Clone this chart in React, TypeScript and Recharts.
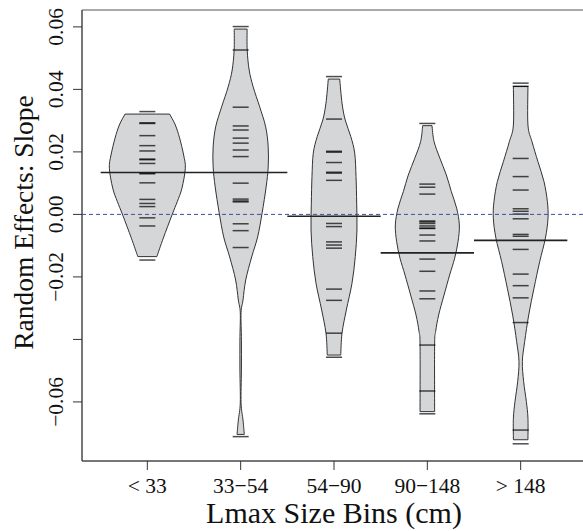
import { ComposedChart, XAxis, YAxis, Scatter, ReferenceLine, ReferenceArea } from 'recharts';

const categories = ['< 33', '33−54', '54−90', '90−148', '> 148'];
const binTicks = [1, 2, 3, 4, 5];
const yTicks = [-0.06, -0.04, -0.02, 0, 0.02, 0.04, 0.06];
const yTickLabels = ['−0.06', '', '−0.02', '0.00', '0.02', '0.04', '0.06'];
const beanMeans = [0.0134, 0.0134, -0.0006, -0.0123, -0.0083];

// individual estimates per size bin
const obsLt33 = [0.0329, 0.0293, 0.0291, 0.0252, 0.022, 0.0203, 0.0177, 0.0175, 0.0163, 0.0132, 0.013, 0.0101, 0.0048, 0.0035, 0.0025, -0.0011, -0.0037, -0.0146];
const obs3354 = [0.0601, 0.0526, 0.0343, 0.0283, 0.027, 0.0244, 0.0228, 0.0206, 0.0185, 0.01, 0.0049, 0.0043, 0.004, -0.003, -0.0052, -0.0106, -0.0711];
const obs5490 = [0.0441, 0.0305, 0.0202, 0.0199, 0.0166, 0.0135, 0.0132, 0.0109, -0.0029, -0.0039, -0.0088, -0.0098, -0.0108, -0.0239, -0.0275, -0.038, -0.0457];
const obs90148 = [0.0291, 0.0097, 0.0087, 0.0065, -0.0021, -0.0024, -0.0029, -0.0037, -0.0044, -0.0045, -0.0066, -0.0085, -0.0143, -0.0182, -0.0245, -0.027, -0.0418, -0.0565, -0.0638];
const obsGt148 = [0.042, 0.041, 0.0179, 0.0121, 0.0078, 0.0018, 0.001, 0.0001, -0.0014, -0.0064, -0.007, -0.0112, -0.0191, -0.0228, -0.0267, -0.0346, -0.069, -0.0734];

// bean outlines, top to bottom: [value, half width in bin units]
const shapeLt33 = [[0.0321, 0.239], [0.0286, 0.3], [0.0244, 0.346], [0.019, 0.389], [0.0148, 0.407], [0.0084, 0.371], [0.0041, 0.321], [-0.0002, 0.264], [-0.0076, 0.171], [-0.0135, 0.102]];
const shape3354 = [[0.0593, 0.069], [0.0526, 0.07], [0.0462, 0.091], [0.0408, 0.134], [0.0344, 0.204], [0.028, 0.268], [0.0216, 0.295], [0.0152, 0.295], [0.0088, 0.273], [0.0005, 0.23], [-0.0072, 0.182], [-0.0136, 0.118], [-0.021, 0.054], [-0.0274, 0.025], [-0.0315, 0.004], [-0.0402, 0.008], [-0.0498, 0.008], [-0.0603, 0.004], [-0.0658, 0.025], [-0.0704, 0.039]];
const shape5490 = [[0.0433, 0.061], [0.0356, 0.086], [0.0302, 0.12], [0.0249, 0.18], [0.0196, 0.222], [0.0121, 0.236], [0.0036, 0.243], [-0.005, 0.246], [-0.0135, 0.228], [-0.022, 0.193], [-0.0306, 0.132], [-0.038, 0.086], [-0.045, 0.072]];
const shape90148 = [[0.0284, 0.05], [0.0233, 0.072], [0.018, 0.134], [0.0126, 0.204], [0.0073, 0.257], [0.002, 0.314], [-0.0034, 0.343], [-0.0087, 0.329], [-0.014, 0.293], [-0.0194, 0.239], [-0.0258, 0.179], [-0.0322, 0.121], [-0.0375, 0.089], [-0.0418, 0.078], [-0.0631, 0.078]];
const shapeGt148 = [[0.0409, 0.078], [0.0286, 0.078], [0.0233, 0.121], [0.0169, 0.185], [0.0105, 0.25], [0.0041, 0.286], [-0.0012, 0.293], [-0.0076, 0.265], [-0.0151, 0.204], [-0.0236, 0.143], [-0.0322, 0.086], [-0.0407, 0.043], [-0.0471, 0.018], [-0.0535, 0.032], [-0.0599, 0.061], [-0.0652, 0.078], [-0.0721, 0.078]];

const bins = [obsLt33, obs3354, obs5490, obs90148, obsGt148];
const shapes = [shapeLt33, shape3354, shape5490, shape90148, shapeGt148];

const outlines = shapes.map((s, i) => {
  const c = i + 1;
  const left = s.map(([v, w]) => ({ x: c - w, y: v }));
  const right = s.slice().reverse().map(([v, w]) => ({ x: c + w, y: v }));
  return [...left, ...right];
});
const obsData = bins.flatMap((b, i) => b.map((v) => ({ x: i + 1, y: v })));

const FONT = 'Liberation Serif';

// catmull-rom through the points of one side of a bean
const spline = (p: { x: number; y: number }[]) => {
  let d = '';
  for (let i = 0; i < p.length - 1; i++) {
    const p0 = p[Math.max(i - 1, 0)];
    const p1 = p[i];
    const p2 = p[i + 1];
    const p3 = p[Math.min(i + 2, p.length - 1)];
    const c1x = p1.x + (p2.x - p0.x) / 6;
    const c1y = p1.y + (p2.y - p0.y) / 6;
    const c2x = p2.x - (p3.x - p1.x) / 6;
    const c2y = p2.y - (p3.y - p1.y) / 6;
    d += ` C${c1x},${c1y} ${c2x},${c2y} ${p2.x},${p2.y}`;
  }
  return d;
};

const renderBean = (props: any) => {
  const pts = props.points || [];
  if (!pts.length) return <g />;
  const n = pts.length / 2;
  const left = pts.slice(0, n);
  const right = pts.slice(n);
  const d = `M${left[0].x},${left[0].y}` + spline(left) + ` L${right[0].x},${right[0].y}` + spline(right) + ' Z';
  return <path d={d} fill="#d5d6d8" stroke="#333" strokeWidth={1} />;
};

const noDot = () => <g />;

const obsMark = (props: any) => (
  <line x1={props.cx - 8} x2={props.cx + 8} y1={props.cy} y2={props.cy} stroke="#000" strokeOpacity={0.7} strokeWidth={1.5} />
);

const YTick = (props: any) => {
  const { x, y, payload } = props;
  const i = yTicks.indexOf(payload.value);
  const tx = x - 8;
  return (
    <text x={tx} y={y} transform={`rotate(-90, ${tx}, ${y})`} textAnchor="middle" fontSize={21.5} fill="#111" style={{ fontFamily: FONT }}>
      {yTickLabels[i]}
    </text>
  );
};

const YTitle = (props: any) => {
  const vb = props.viewBox || { x: 0, y: 10, width: 82, height: 451 };
  const tx = vb.x + 33;
  const ty = vb.y + vb.height / 2 - 13;
  return (
    <text x={tx} y={ty} transform={`rotate(-90, ${tx}, ${ty})`} textAnchor="middle" fontSize={27.5} fill="#111" style={{ fontFamily: FONT }}>
      Random Effects: Slope
    </text>
  );
};

export default function App() {
  return (
    <div style={{ position: 'absolute', left: 0, top: 0, width: 583, height: 531, overflow: 'hidden', background: '#fff' }}>
      <ComposedChart width={600} height={531} margin={{ top: 10, right: 14, bottom: 0, left: 0 }} style={{ fontFamily: FONT }}>
        <XAxis
          dataKey="x"
          type="number"
          domain={[0.3, 5.7]}
          ticks={binTicks}
          interval={0}
          allowDataOverflow
          tickFormatter={(v) => categories[v - 1]}
          height={70}
          tickSize={9}
          tickMargin={8}
          axisLine={{ stroke: '#444' }}
          tickLine={{ stroke: '#333' }}
          tick={{ fontSize: 21.5, fill: '#111', style: { fontFamily: FONT } }}
          label={{ value: 'Lmax Size Bins (cm)', position: 'insideBottom', offset: 8, fontSize: 30, fill: '#111', style: { fontFamily: FONT } }}
        />
        <YAxis
          dataKey="y"
          type="number"
          domain={[-0.0789, 0.0654]}
          ticks={yTicks}
          interval={0}
          allowDataOverflow
          width={82}
          tickSize={9}
          axisLine={{ stroke: '#444' }}
          tickLine={{ stroke: '#333' }}
          tick={<YTick />}
          label={{ content: YTitle }}
        />
        <ReferenceArea x1={0.3} x2={5.7} y1={-0.0789} y2={0.0654} fill="none" stroke="#555" strokeWidth={1} fillOpacity={0} />
        {outlines.map((o, i) => (
          <Scatter key={`bean-${i}`} data={o} line={renderBean} shape={noDot} isAnimationActive={false} />
        ))}
        <Scatter data={obsData} shape={obsMark} isAnimationActive={false} />
        <ReferenceLine y={0} stroke="#3f4fa0" strokeDasharray="4 3" strokeWidth={1} zIndex={700} />
        {beanMeans.map((m, i) => (
          <ReferenceLine
            key={`mean-${i}`}
            segment={[{ x: i + 0.5, y: m }, { x: i + 1.5, y: m }]}
            stroke="#222"
            strokeWidth={1.6}
            zIndex={710}
          />
        ))}
      </ComposedChart>
    </div>
  );
}
